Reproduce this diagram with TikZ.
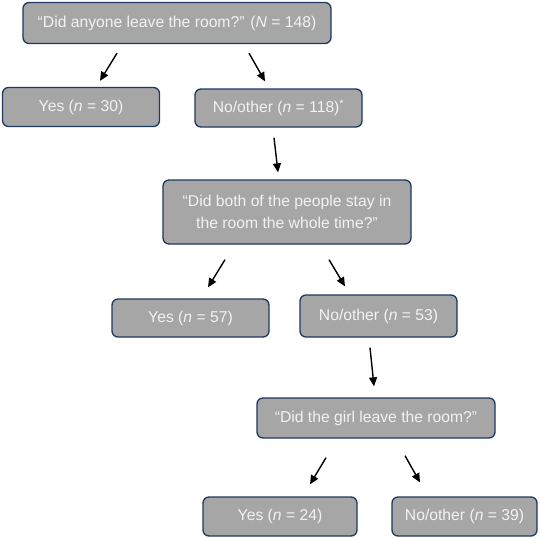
\documentclass[tikz,border=0pt]{standalone}
\usepackage{fontspec}
\setmainfont{Liberation Sans}
\usetikzlibrary{arrows.meta}
\definecolor{boxgray}{RGB}{166, 166, 166}
\definecolor{boxedge}{RGB}{31, 56, 96}
\definecolor{boxtext}{RGB}{242, 242, 242}

\begin{document}
\begin{tikzpicture}[x=1pt, y=-1pt, >={Triangle[length=9pt, width=8pt]},
  box/.style={draw=boxedge, line width=1.3pt, fill=boxgray, rounded corners=6pt,
    text=boxtext, align=center, inner sep=0pt,
    font=\fontsize{15.7}{22}\selectfont},
  arr/.style={->, line width=1.4pt}]
  \useasboundingbox (0,0) rectangle (540,538);
  % questions and answers
  \node[box, minimum width=308pt, minimum height=41pt] (q1) at (177,23)
    {``Did anyone leave the room?'' (\textit{N} = 148)};
  \node[box, minimum width=157pt, minimum height=39pt] (yes1) at (81,107)
    {Yes (\textit{n} = 30)};
  \node[box, minimum width=167pt, minimum height=38pt] (no1) at (278.5,108)
    {No/other (\textit{n} = 118)\textsuperscript{*}};
  \node[box, minimum width=248pt, minimum height=64pt] (q2) at (287,212)
    {``Did both of the people stay in\\the room the whole time?''};
  \node[box, minimum width=157pt, minimum height=38pt] (yes2) at (190.5,318)
    {Yes (\textit{n} = 57)};
  \node[box, minimum width=157pt, minimum height=42pt] (no2) at (378.5,316)
    {No/other (\textit{n} = 53)};
  \node[box, minimum width=238pt, minimum height=40pt] (q3) at (376,418)
    {``Did the girl leave the room?''};
  \node[box, minimum width=154pt, minimum height=39pt] (yes3) at (280,516.5)
    {Yes (\textit{n} = 24)};
  \node[box, minimum width=145pt, minimum height=39pt] (no3) at (464.5,516.5)
    {No/other (\textit{n} = 39)};
  % arrows
  \draw[arr] ([xshift=-60pt, yshift=-9pt]q1.south) -- ([xshift=19pt, yshift=6pt]yes1.north);
  \draw[arr] ([xshift=72pt, yshift=-9pt]q1.south) -- ([xshift=-13.5pt, yshift=7pt]no1.north);
  \draw[arr] ([xshift=-4.5pt, yshift=-10pt]no1.south) -- ([xshift=-9pt, yshift=7pt]q2.north);
  \draw[arr] ([xshift=-62pt, yshift=-15pt]q2.south) -- ([xshift=17.5pt, yshift=11pt]yes2.north);
  \draw[arr] ([xshift=42pt, yshift=-15pt]q2.south) -- ([xshift=-33.5pt, yshift=8pt]no2.north);
  \draw[arr] ([xshift=-8.5pt, yshift=-10pt]no2.south) -- ([xshift=-2pt, yshift=11pt]q3.north);
  \draw[arr] ([xshift=-50pt, yshift=-19pt]q3.south) -- ([xshift=30pt, yshift=12pt]yes3.north);
  \draw[arr] ([xshift=29pt, yshift=-17pt]q3.south) -- ([xshift=-44.5pt, yshift=14pt]no3.north);
\end{tikzpicture}
\end{document}
